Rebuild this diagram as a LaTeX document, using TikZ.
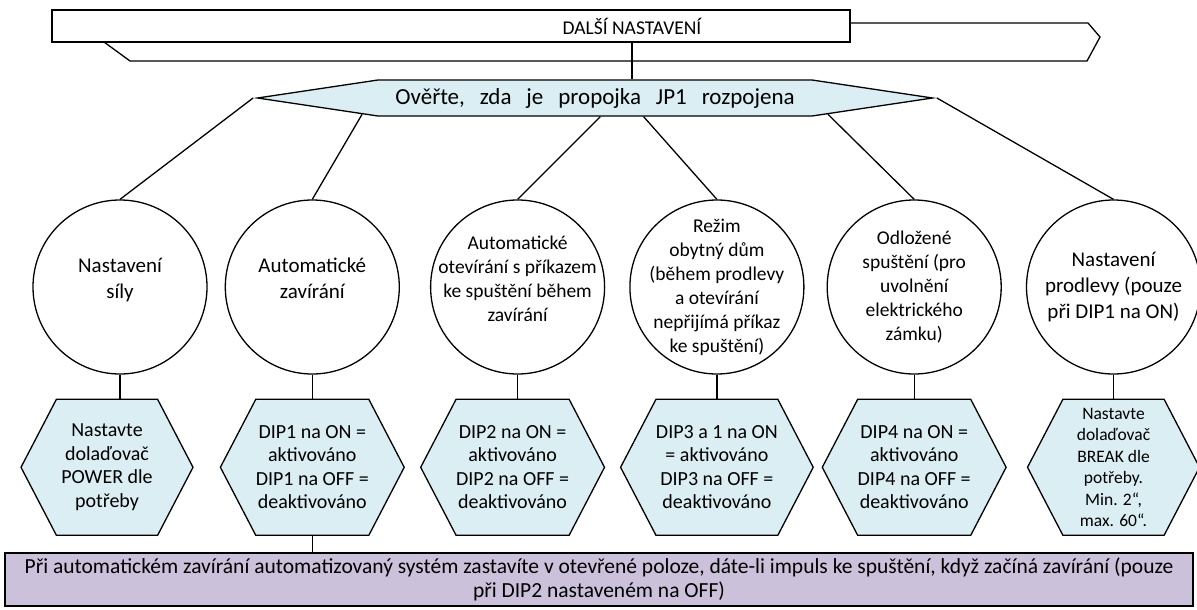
\documentclass[tikz,border=0pt]{standalone}
\usepackage{fontspec}
\setmainfont{Carlito}
\usetikzlibrary{positioning,calc,shapes.symbols}
\definecolor{hexBlue}{HTML}{DAEEF3}
\definecolor{noteLilac}{HTML}{CCC1DA}
\tikzset{
  node distance=24pt and 17pt,
  link/.style={line width=1.3pt},
  topic/.style={circle, draw, link, minimum size=174pt, inner sep=-14pt,
                align=center, font=\fontsize{21}{26}\selectfont},
  topics/.style={topic, font=\fontsize{19.5}{24}\selectfont},
  dip/.style={signal, signal to=west and east, signal pointer angle=125, draw, link,
              fill=hexBlue, minimum width=172pt, minimum height=136pt, inner sep=0pt,
              align=center, font=\fontsize{20}{23.5}\selectfont},
}
\begin{document}
\begin{tikzpicture}[x=1pt, y=-1pt]
  \useasboundingbox (0,0) rectangle (1197,610);
  % title bar with its ribbon
  \draw[link] (850,23) -- (1088,23) -- (1100,37) -- (1087,61) -- (130,61) -- (104,42);
  \node[draw, link, fill=white, minimum width=798pt, minimum height=32pt, inner sep=0pt] (more) at (451,26) {};
  \node[font=\fontsize{19.5}{23}\selectfont] (moretxt) at (632,26) {DALŠÍ NASTAVENÍ};

  \node[signal, signal to=west and east, signal pointer angle=17, draw, link, fill=hexBlue,
        minimum width=675pt, minimum height=36pt, inner sep=0pt,
        font=\fontsize{23}{27}\selectfont] (check) at (595,98)
        {\spaceskip=0.65em Ověřte, zda je propojka JP1 rozpojena};

  \node[topic] (c1) at (120,287) {Nastavení\\síly\\[-8pt]\mbox{}};
  \node[topic, right=17pt of c1] (c2) {Automatické\\zavírání\\[-8pt]\mbox{}};
  \node[topics, right=30pt of c2] (c3) {Automatické\\otevírání s příkazem\\ke spuštění během\\zavírání\\[-8pt]\mbox{}};
  \node[topics, right=24pt of c3] (c4) {Režim\\obytný dům\\(během prodlevy\\a otevírání\\nepřijímá příkaz\\ke spuštění)};
  \node[topics, right=22pt of c4] (c5) {Odložené\\spuštění (pro\\uvolnění\\elektrického\\zámku)};
  \node[topic, right=24pt of c5] (c6) {Nastavení\\prodlevy (pouze\\při DIP1 na ON)};

  \node[dip, below=24pt of c1, xshift=-13pt] (h1) {Nastavte\\dolaďovač\\POWER dle\\potřeby};
  \node[dip, below=24pt of c2] (h2) {DIP1 na ON =\\aktivováno\\DIP1 na OFF =\\deaktivováno};
  \node[dip, below=24pt of c3, xshift=-5pt] (h3) {DIP2 na ON =\\aktivováno\\DIP2 na OFF =\\deaktivováno};
  \node[dip, below=24pt of c4] (h4) {DIP3 a 1 na ON\\= aktivováno\\DIP3 na OFF =\\deaktivováno};
  \node[dip, below=24pt of c5] (h5) {DIP4 na ON =\\aktivováno\\DIP4 na OFF =\\deaktivováno};
  \node[dip, below=24pt of c6, font=\fontsize{17.5}{21.5}\selectfont] (h6) {Nastavte\\dolaďovač\\BREAK dle\\potřeby.\\Min. 2“,\\max. 60“.};

  \node[draw, link, fill=noteLilac, minimum width=1188pt, minimum height=53pt, inner sep=0pt,
        align=center, font=\fontsize{21.5}{23.5}\selectfont] (note) at (599,579.5)
        {Při automatickém zavírání automatizovaný systém zastavíte v otevřené poloze, dáte-li impuls ke spuštění, když začíná zavírání (pouze\\při DIP2 nastaveném na OFF)};

  \draw[link] (more.south -| moretxt) -- (check.north -| moretxt);
  \draw[link] (check.west) -- (c1.north);
  \draw[link] (check.184) -- (c2.north);
  \draw[link] (check.-74) -- (c3.north);
  \draw[link] (check.-21) -- (c4.north);
  \draw[link] (check.-4.6) -- (c5.north);
  \draw[link] (check.east) -- (c6.north);
  \foreach \i in {1,...,6} {
    \draw[link] (c\i.south) -- (c\i.south |- h\i.north);
  }
  \draw[link] (h2.south) -- (h2.south |- note.north);
\end{tikzpicture}
\end{document}
